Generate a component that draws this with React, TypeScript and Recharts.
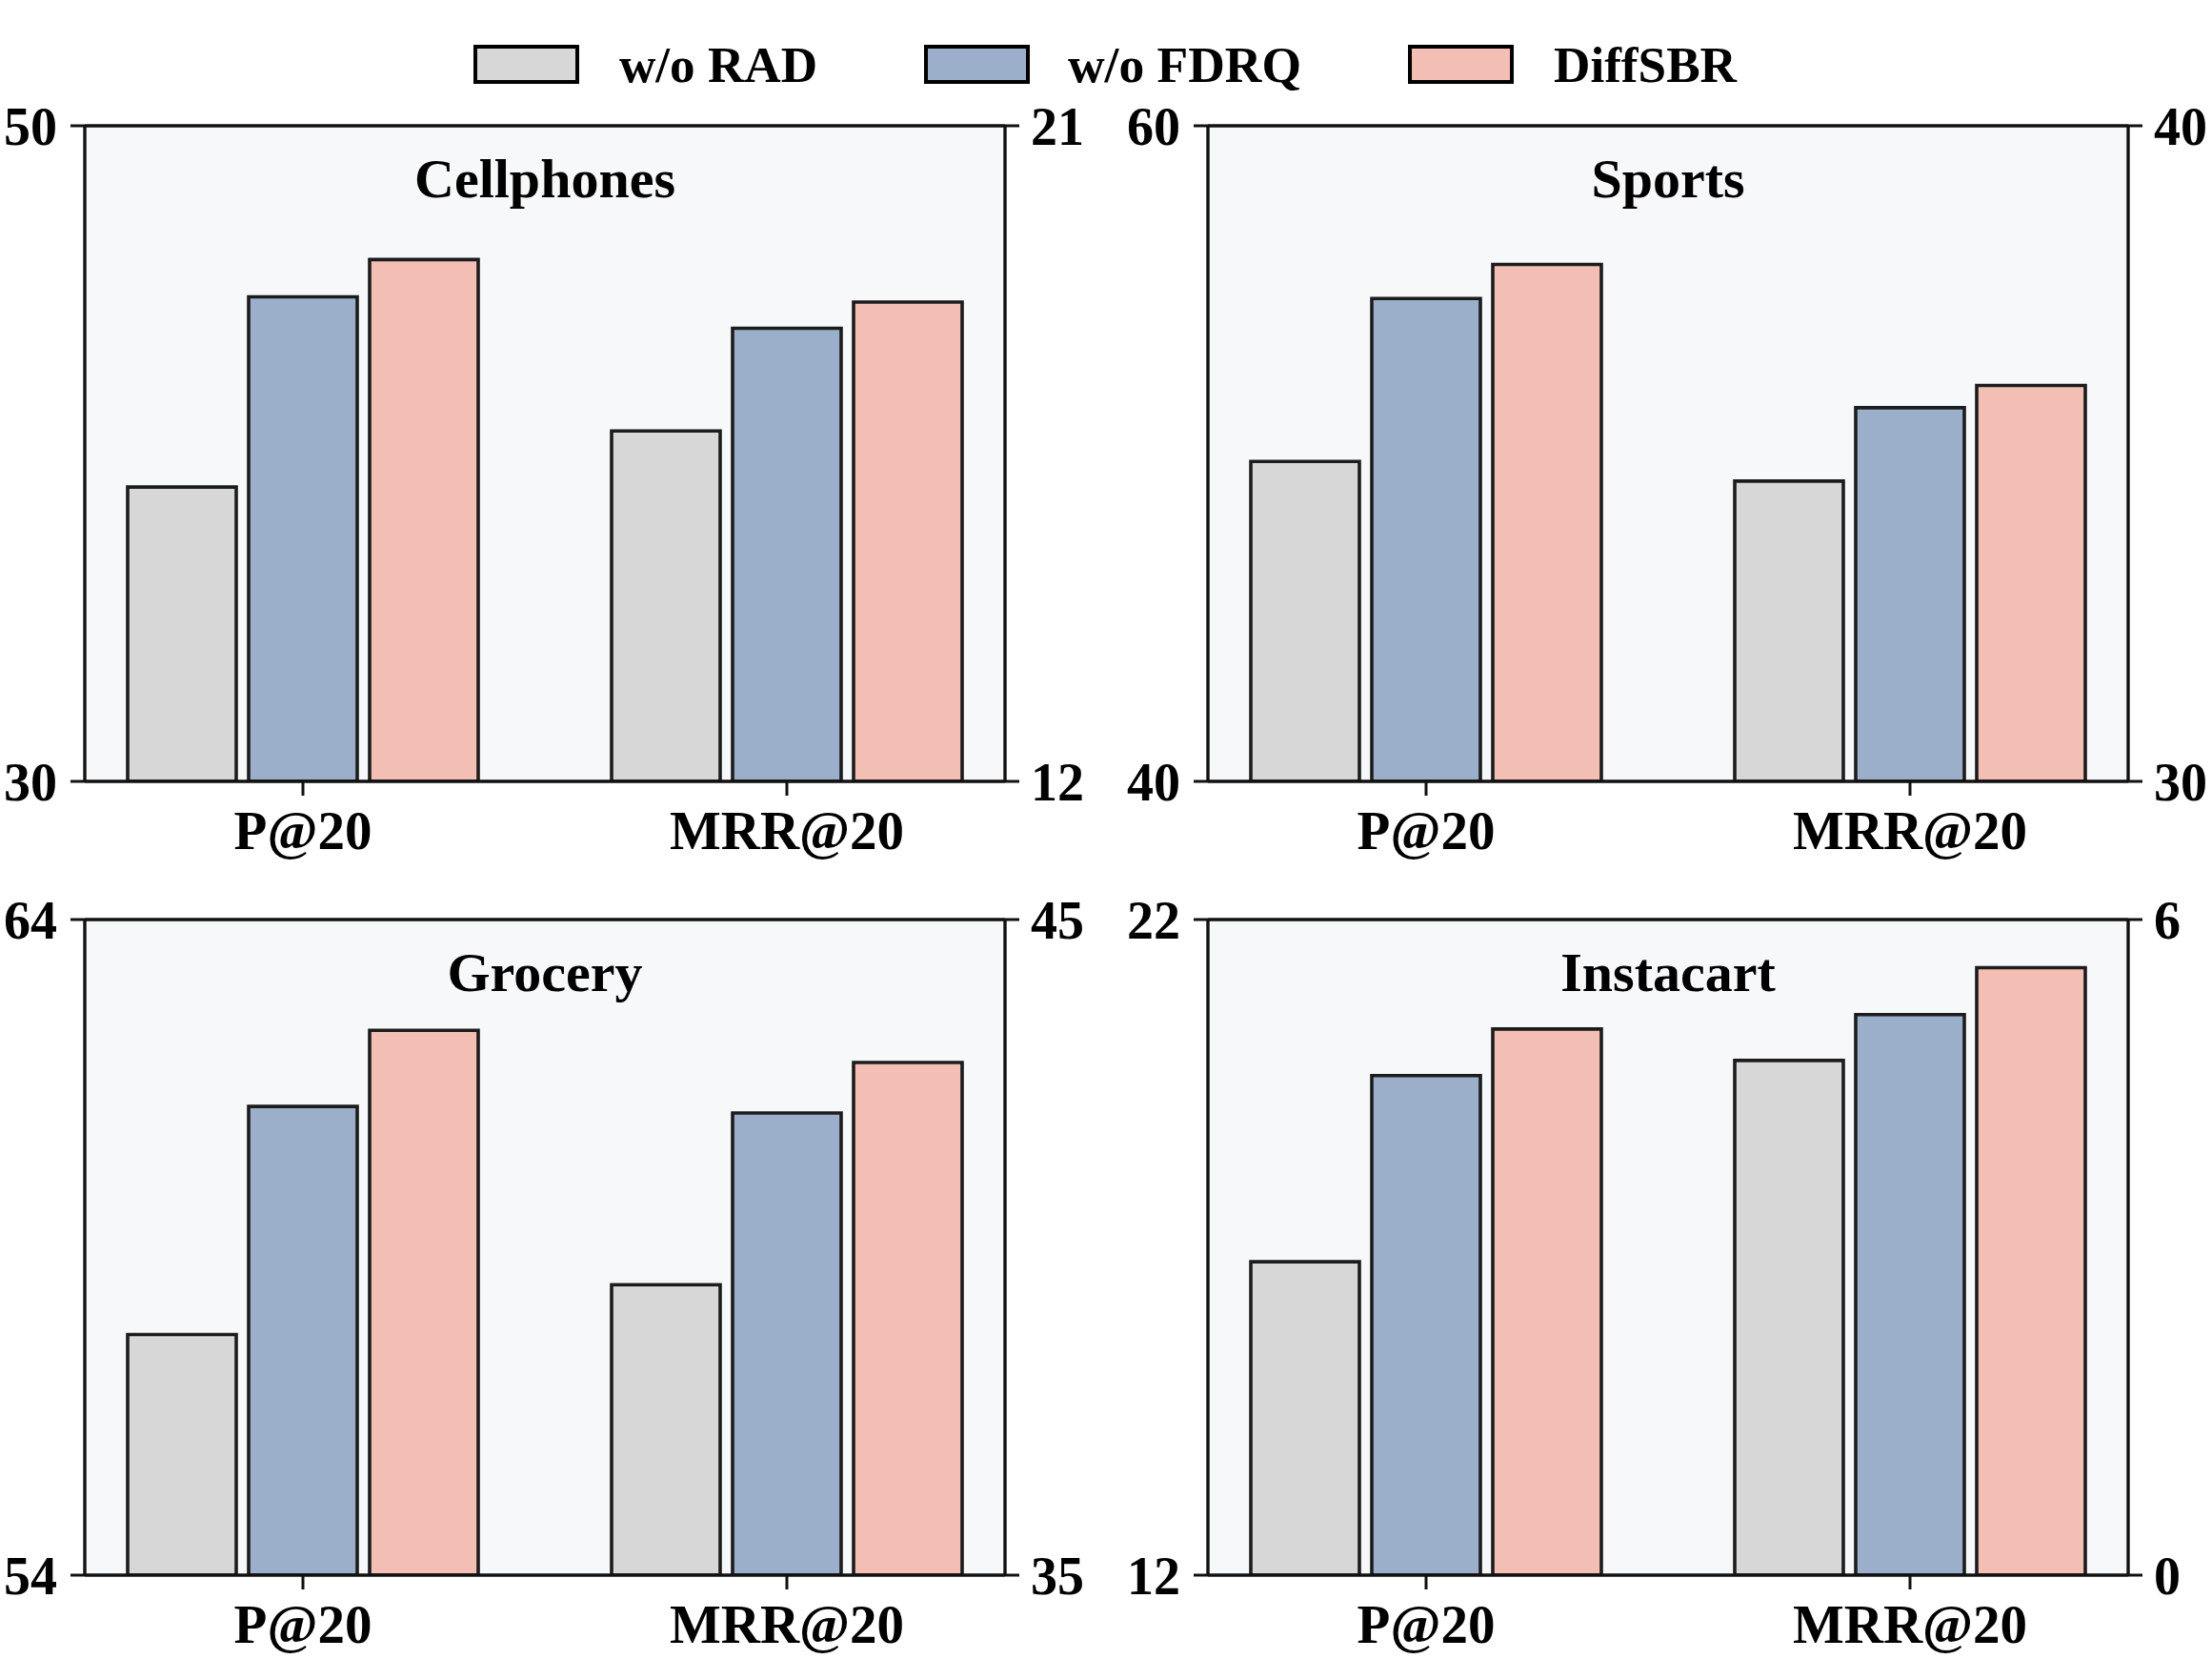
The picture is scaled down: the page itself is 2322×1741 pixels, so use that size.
import React from "react";
import { BarChart, Bar, XAxis, YAxis, CartesianGrid, ReferenceLine } from "recharts";

const FONT = "'Liberation Serif', 'Times New Roman', serif";

// series order: w/o RAD, w/o FDRQ, DiffSBR
const seriesNames = ["w/o RAD", "w/o FDRQ", "DiffSBR"];
const seriesColors = ["#d7d7d7", "#9baeca", "#f3beb3"];
const metrics = ["P@20", "MRR@20"];

const cellphonesP = [38.98, 44.78, 45.92];
const cellphonesMRR = [16.81, 18.22, 18.58];
const sportsP = [49.76, 54.73, 55.77];
const sportsMRR = [34.58, 35.7, 36.04];
const groceryP = [57.67, 61.15, 62.31];
const groceryMRR = [39.43, 42.05, 42.82];
const instacartP = [16.78, 19.62, 20.33];
const instacartMRR = [4.71, 5.13, 5.56];

const cellphonesTicks = { left: [30, 50], right: [12, 21] };
const sportsTicks = { left: [40, 60], right: [30, 40] };
const groceryTicks = { left: [54, 64], right: [35, 45] };
const instacartTicks = { left: [12, 22], right: [0, 6] };

const keys = ["rad", "fdrq", "diff"];

function buildRows(p: number[], m: number[]) {
  const rowP: any = { metric: metrics[0] };
  const rowM: any = { metric: metrics[1] };
  keys.forEach((k, i) => {
    rowP[k + "P"] = p[i];
    rowM[k + "M"] = m[i];
  });
  return [rowP, rowM];
}

const axisStroke = { stroke: "#111", strokeWidth: 3.4 };
const tickStroke = { stroke: "#111", strokeWidth: 3 };
const tickFont = { fontSize: 56, fontWeight: "bold", fill: "#000", fontFamily: FONT };

interface PanelProps {
  title: string;
  p: number[];
  m: number[];
  ticks: { left: number[]; right: number[] };
  left: number;
  top: number;
  height: number;
  margin: { top: number; right: number; bottom: number; left: number };
  xHeight: number;
}

function Panel({ title, p, m, ticks, left, top, height, margin, xHeight }: PanelProps) {
  const width = 1161;
  const plotLeft = margin.left + 80;
  const plotRight = width - margin.right - 80;
  return (
    <div style={{ position: "absolute", left, top, width, height }}>
      <BarChart
        width={width}
        height={height}
        data={buildRows(p, m)}
        margin={margin}
        barSize={114}
        barGap={13}
      >
        <CartesianGrid yAxisId="left" fill="#f7f8fa" stroke="none" horizontal={false} vertical={false} />
        <XAxis
          dataKey="metric"
          padding={{ left: -25, right: -25 }}
          height={xHeight}
          tickSize={15}
          tickMargin={16}
          interval={0}
          axisLine={axisStroke}
          tickLine={tickStroke}
          tick={{ ...tickFont, fontSize: 57 }}
        />
        <YAxis
          yAxisId="left"
          domain={[ticks.left[0], ticks.left[1]]}
          ticks={ticks.left}
          allowDataOverflow
          width={80}
          tickSize={15}
          tickMargin={14}
          axisLine={axisStroke}
          tickLine={tickStroke}
          tick={tickFont}
        />
        <YAxis
          yAxisId="right"
          orientation="right"
          domain={[ticks.right[0], ticks.right[1]]}
          ticks={ticks.right}
          allowDataOverflow
          width={80}
          tickSize={15}
          tickMargin={12}
          axisLine={axisStroke}
          tickLine={tickStroke}
          tick={tickFont}
        />
        {keys.map((k, i) => [
          <Bar
            key={k + "P"}
            dataKey={k + "P"}
            yAxisId="left"
            stackId={k}
            fill={seriesColors[i]}
            stroke="#1c1c1c"
            strokeWidth={3.6}
            isAnimationActive={false}
          />,
          <Bar
            key={k + "M"}
            dataKey={k + "M"}
            yAxisId="right"
            stackId={k}
            fill={seriesColors[i]}
            stroke="#1c1c1c"
            strokeWidth={3.6}
            isAnimationActive={false}
          />,
        ])}
        <ReferenceLine yAxisId="left" y={ticks.left[1]} stroke="#111" strokeWidth={3.4} ifOverflow="visible" />
        <text
          x={(plotLeft + plotRight) / 2}
          y={margin.top + 75}
          textAnchor="middle"
          fontSize={58}
          fontWeight="bold"
          fontFamily={FONT}
          fill="#000"
        >
          {title}
        </text>
      </BarChart>
    </div>
  );
}

const legendX = [499, 972, 1480];
const legendTextX = [650, 1121, 1631];
const legendTextW = [208, 245, 192];

function Legend() {
  return (
    <svg
      width={2322}
      height={120}
      style={{ position: "absolute", left: 0, top: 0 }}
    >
      {seriesNames.map((name, i) => (
        <g key={name}>
          <rect x={legendX[i]} y={49} width={107} height={37} fill={seriesColors[i]} stroke="#000" strokeWidth={4} />
          <text
            x={legendTextX[i]}
            y={86}
            fontSize={52}
            fontWeight="bold"
            fontFamily={FONT}
            fill="#000"
            textLength={legendTextW[i]}
            lengthAdjust="spacingAndGlyphs"
          >
            {name}
          </text>
        </g>
      ))}
    </svg>
  );
}

export default function App() {
  const topMargin = (l: number, r: number) => ({ top: 132, right: r, bottom: 0, left: l });
  const botMargin = (l: number, r: number) => ({ top: 85, right: r, bottom: 0, left: l });
  return (
    <div
      style={{
        position: "absolute",
        left: 0,
        top: 0,
        width: 2322,
        height: 1741,
        overflow: "hidden",
        background: "#fff",
      }}
    >
      <Panel title="Cellphones" p={cellphonesP} m={cellphonesMRR} ticks={cellphonesTicks} left={0} top={0} height={920} margin={topMargin(9, 26)} xHeight={100} />
      <Panel title="Sports" p={sportsP} m={sportsMRR} ticks={sportsTicks} left={1161} top={0} height={920} margin={topMargin(27, 8)} xHeight={100} />
      <Panel title="Grocery" p={groceryP} m={groceryMRR} ticks={groceryTicks} left={0} top={880} height={861} margin={botMargin(9, 26)} xHeight={88} />
      <Panel title="Instacart" p={instacartP} m={instacartMRR} ticks={instacartTicks} left={1161} top={880} height={861} margin={botMargin(27, 8)} xHeight={88} />
      <Legend />
    </div>
  );
}
